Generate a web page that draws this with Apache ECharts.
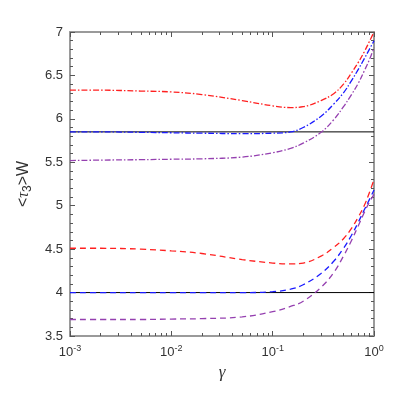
<!DOCTYPE html>
<html>
<head>
<meta charset="utf-8">
<script src="https://cdn.jsdelivr.net/npm/echarts@6/dist/echarts.min.js"></script>
<style>
  html, body { margin: 0; padding: 0; background: #fff; }
  #chart { width: 418px; height: 395px; }
</style>
</head>
<body>
<div id="chart"></div>
<script>
// gamma sample points (log axis)
const gamma = [0.001, 0.002, 0.005, 0.01, 0.02, 0.05, 0.1, 0.15, 0.2, 0.3, 0.4, 0.5, 0.6, 0.7, 0.8, 0.9, 1.0];

// upper group (dash-dot)
const redUpper    = [6.33, 6.33, 6.32, 6.31, 6.28, 6.21, 6.15, 6.13, 6.14, 6.21, 6.29, 6.40, 6.53, 6.65, 6.77, 6.89, 7.00];
const blueUpper   = [5.85, 5.85, 5.845, 5.84, 5.835, 5.83, 5.835, 5.85, 5.90, 6.03, 6.17, 6.30, 6.44, 6.57, 6.69, 6.80, 6.90];
const purpleUpper = [5.52, 5.525, 5.53, 5.535, 5.54, 5.56, 5.61, 5.66, 5.72, 5.845, 5.99, 6.14, 6.28, 6.41, 6.55, 6.68, 6.82];

// lower group (dashed)
const redLower    = [4.51, 4.51, 4.50, 4.48, 4.45, 4.38, 4.34, 4.33, 4.34, 4.42, 4.52, 4.62, 4.74, 4.87, 5.00, 5.15, 5.30];
const blueLower   = [4.00, 4.00, 4.00, 4.00, 4.00, 4.00, 4.01, 4.04, 4.09, 4.22, 4.36, 4.51, 4.66, 4.81, 4.95, 5.07, 5.18];
const purpleLower = [3.69, 3.69, 3.69, 3.695, 3.70, 3.72, 3.78, 3.84, 3.90, 4.06, 4.23, 4.42, 4.60, 4.77, 4.92, 5.04, 5.13];

// reference horizontal levels
const refLevels = [5.85, 4.0];

const xMajor = [0.001, 0.01, 0.1, 1];
const xMinor = [];
[0.001, 0.01, 0.1].forEach(d => { for (let k = 2; k <= 9; k++) xMinor.push(+(d * k).toPrecision(3)); });

const pairs = arr => gamma.map((g, i) => [g, arr[i]]);

const RED = '#ff2020', BLUE = '#1a1aff', PURPLE = '#9540b0';
const DASHDOT = [6, 2, 1.5, 2];
const DASHED = [6, 4];
const AXIS_GRAY = '#9a9a9a';

function curve(name, arr, color, type) {
  return {
    name: name, type: 'line', data: pairs(arr), smooth: 0.4, showSymbol: false,
    xAxisIndex: 0, yAxisIndex: 0,
    lineStyle: { color: color, width: 1.3, type: type }
  };
}

const logAxisBase = {
  type: 'log', logBase: 10, min: 0.001, max: 1,
  splitLine: { show: false }
};

const chart = echarts.init(document.getElementById('chart'));
chart.setOption({
  animation: false,
  grid: { left: 70, right: 44, top: 32, bottom: 59 },
  xAxis: [
    Object.assign({}, logAxisBase, {
      position: 'bottom',
      name: 'γ', nameLocation: 'middle', nameGap: 27,
      nameTextStyle: { fontFamily: 'Liberation Serif', fontStyle: 'italic', fontSize: 17, color: '#333' },
      axisLine: { lineStyle: { color: AXIS_GRAY, width: 2 } },
      axisTick: { inside: true, length: 5, customValues: xMajor, lineStyle: { color: '#555' } },
      axisLabel: {
        customValues: xMajor, margin: 8,
        formatter: v => '10{sup|' + Math.round(Math.log10(v)) + '}',
        rich: { sup: { fontSize: 9, verticalAlign: 'top', padding: [0, 0, 8, 0], color: '#333', fontFamily: 'Liberation Sans' } },
        fontSize: 13, color: '#333', fontFamily: 'Liberation Sans'
      }
    }),
    Object.assign({}, logAxisBase, {
      position: 'top',
      axisLine: { lineStyle: { color: AXIS_GRAY, width: 2 } },
      axisTick: { inside: true, length: 5, customValues: xMajor, lineStyle: { color: '#555' } },
      axisLabel: { show: false }
    }),
    Object.assign({}, logAxisBase, {
      position: 'bottom',
      axisLine: { show: false },
      axisTick: { inside: true, length: 3, customValues: xMinor, lineStyle: { color: '#555' } },
      axisLabel: { show: false }
    }),
    Object.assign({}, logAxisBase, {
      position: 'top',
      axisLine: { show: false },
      axisTick: { inside: true, length: 3, customValues: xMinor, lineStyle: { color: '#555' } },
      axisLabel: { show: false }
    })
  ],
  yAxis: [
    {
      type: 'value', min: 3.5, max: 7, interval: 0.5, position: 'left',
      name: '<{tau|τ}{sub|3}>W', nameLocation: 'middle', nameGap: 32, nameRotate: 90,
      nameTextStyle: {
        fontSize: 16, color: '#333', fontFamily: 'Liberation Sans',
        rich: {
          tau: { fontSize: 16, fontStyle: 'italic', color: '#333', fontFamily: 'Liberation Serif' },
          sub: { fontSize: 12, verticalAlign: 'bottom', padding: [9, 0, 0, 0], color: '#333', fontFamily: 'Liberation Sans' }
        }
      },
      splitLine: { show: false },
      axisLine: { lineStyle: { color: AXIS_GRAY, width: 2 } },
      axisTick: { inside: true, length: 5, lineStyle: { color: '#555' } },
      minorTick: { show: true, splitNumber: 5, length: 3, lineStyle: { color: '#555' } },
      axisLabel: { fontSize: 13, color: '#333', fontFamily: 'Liberation Sans', margin: 7 }
    },
    {
      type: 'value', min: 3.5, max: 7, interval: 0.5, position: 'right',
      splitLine: { show: false },
      axisLine: { lineStyle: { color: AXIS_GRAY, width: 2 } },
      axisTick: { inside: true, length: 5, lineStyle: { color: '#555' } },
      minorTick: { show: true, splitNumber: 5, length: 3, lineStyle: { color: '#555' } },
      axisLabel: { show: false }
    }
  ],
  series: [
    ...refLevels.map(v => ({
      type: 'line', data: [[0.001, v], [1, v]], showSymbol: false,
      xAxisIndex: 0, yAxisIndex: 0,
      lineStyle: { color: '#000', width: 1 }, z: 1
    })),
    curve('red upper', redUpper, RED, DASHDOT),
    curve('blue upper', blueUpper, BLUE, DASHDOT),
    curve('purple upper', purpleUpper, PURPLE, DASHDOT),
    curve('red lower', redLower, RED, DASHED),
    curve('blue lower', blueLower, BLUE, DASHED),
    curve('purple lower', purpleLower, PURPLE, DASHED)
  ]
});
</script>
</body>
</html>
